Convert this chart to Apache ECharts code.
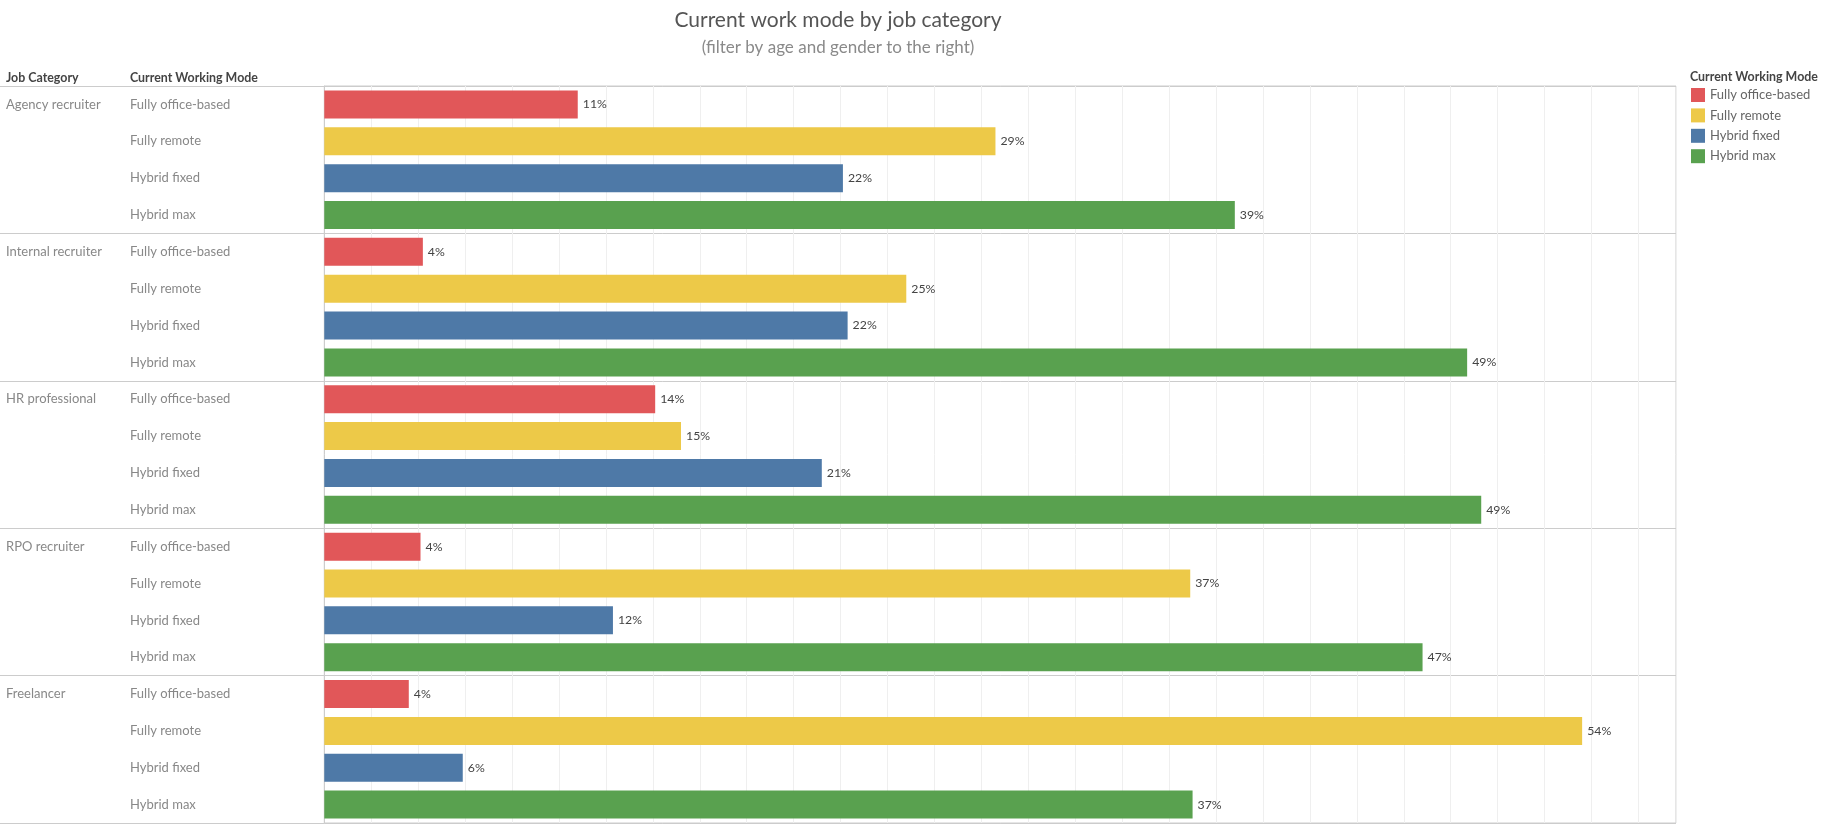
<!DOCTYPE html>
<html>
<head>
<meta charset="utf-8">
<script src="https://cdn.jsdelivr.net/npm/echarts@6/dist/echarts.min.js"></script>
<style>
html,body{margin:0;padding:0;background:#fff;}
#chart{width:1828px;height:824px;}
</style>
</head>
<body>
<div id="chart"></div>
<script>
const jobCategories = ['Agency recruiter', 'Internal recruiter', 'HR professional', 'RPO recruiter', 'Freelancer'];
const workModes = ['Fully office-based', 'Fully remote', 'Hybrid fixed', 'Hybrid max'];
// percentage values per job category (same order as jobCategories)
const fullyOfficeBased = [10.8, 4.2, 14.1, 4.1, 3.6];
const fullyRemote      = [28.6, 24.8, 15.2, 36.9, 53.6];
const hybridFixed      = [22.1, 22.3, 21.2, 12.3, 5.9];
const hybridMax        = [38.8, 48.7, 49.3, 46.8, 37.0];
const modeValues = [fullyOfficeBased, fullyRemote, hybridFixed, hybridMax];
const modeColors = ['#E15759', '#EDC948', '#4E79A7', '#59A14F'];

const FONT = 'Lato, "Noto Sans", sans-serif';

const rows = [];
jobCategories.forEach((job, j) => {
  workModes.forEach((mode, m) => rows.push({ j, m }));
});
const modeLabels = rows.map(r => workModes[r.m]);
const jobLabels = rows.map(r => r.m === 0 ? jobCategories[r.j] : '');

const series = workModes.map((mode, m) => ({
  name: mode,
  type: 'bar',
  xAxisIndex: 0,
  yAxisIndex: 0,
  barWidth: 28,
  barGap: '-100%',
  itemStyle: { color: modeColors[m] },
  label: {
    show: true,
    position: 'right',
    distance: 5,
    color: '#444',
    fontSize: 12.3,
    fontFamily: FONT,
    formatter: p => Math.round(p.value) + '%'
  },
  emphasis: { disabled: true },
  data: rows.map(r => r.m === m ? modeValues[m][r.j] : '-')
}));

const option = {
  animation: false,
  textStyle: { fontFamily: FONT },
  title: [
    { text: 'Current work mode by job category', left: 838, top: 10, textAlign: 'center', padding: 0,
      textStyle: { fontSize: 21, fontWeight: 'normal', color: '#555', fontFamily: FONT } },
    { text: '(filter by age and gender to the right)', left: 838, top: 39, textAlign: 'center', padding: 0,
      textStyle: { fontSize: 17, fontWeight: 'normal', color: '#8a8a8a', fontFamily: FONT } },
    { text: 'Job Category', left: 6, top: 72, padding: 0,
      textStyle: { fontSize: 12.4, fontWeight: 'bold', color: '#444', fontFamily: FONT } },
    { text: 'Current Working Mode', left: 130, top: 72, padding: 0,
      textStyle: { fontSize: 12.4, fontWeight: 'bold', color: '#444', fontFamily: FONT } },
    { text: 'Current Working Mode', left: 1690, top: 71, padding: 0,
      textStyle: { fontSize: 12.4, fontWeight: 'bold', color: '#444', fontFamily: FONT } }
  ],
  legend: {
    orient: 'vertical',
    left: 1691,
    top: 88,
    padding: 0,
    itemWidth: 14,
    itemHeight: 14,
    itemGap: 6.4,
    icon: 'rect',
    selectedMode: false,
    textStyle: { fontSize: 13, color: '#666', fontFamily: FONT },
    data: workModes
  },
  grid: [
    { left: 324.3, right: 152, top: 86, bottom: 1, show: true, borderColor: '#cccccc', borderWidth: 1, backgroundColor: 'transparent' },
    { left: 0, width: 324.3, top: 86, bottom: 1, show: false }
  ],
  xAxis: [
    { type: 'value', gridIndex: 0, min: 0, max: 57.6, interval: 2,
      axisLabel: { show: false }, axisLine: { show: false }, axisTick: { show: false },
      splitLine: { show: true, lineStyle: { color: '#efefef', width: 1 } } },
    { type: 'value', gridIndex: 1, show: false, splitLine: { show: false } }
  ],
  yAxis: [
    { type: 'category', gridIndex: 0, inverse: true, data: modeLabels,
      axisLine: { show: true, lineStyle: { color: '#cccccc' } }, axisTick: { show: false },
      axisLabel: { interval: 0, align: 'left', margin: 194.3, color: '#888', fontSize: 13, fontFamily: FONT, padding: [4, 0, 0, 0] },
      splitLine: { show: true, interval: (i) => i % 4 === 0, lineStyle: { color: '#cccccc', width: 1 } } },
    { type: 'category', gridIndex: 0, inverse: true, data: jobLabels, position: 'left', offset: 0,
      axisLine: { show: false }, axisTick: { show: false },
      axisLabel: { interval: 0, align: 'left', margin: 318.3, color: '#888', fontSize: 13, fontFamily: FONT, padding: [2, 0, 0, 0] },
      splitLine: { show: false } },
    { type: 'category', gridIndex: 1, inverse: true, data: jobCategories,
      axisLine: { show: false }, axisTick: { show: false }, axisLabel: { show: false },
      splitLine: { show: true, lineStyle: { color: '#cccccc', width: 1 } } }
  ],
  series: series
};

const chart = echarts.init(document.getElementById('chart'), null, { renderer: 'canvas' });
chart.setOption(option);
</script>
</body>
</html>
